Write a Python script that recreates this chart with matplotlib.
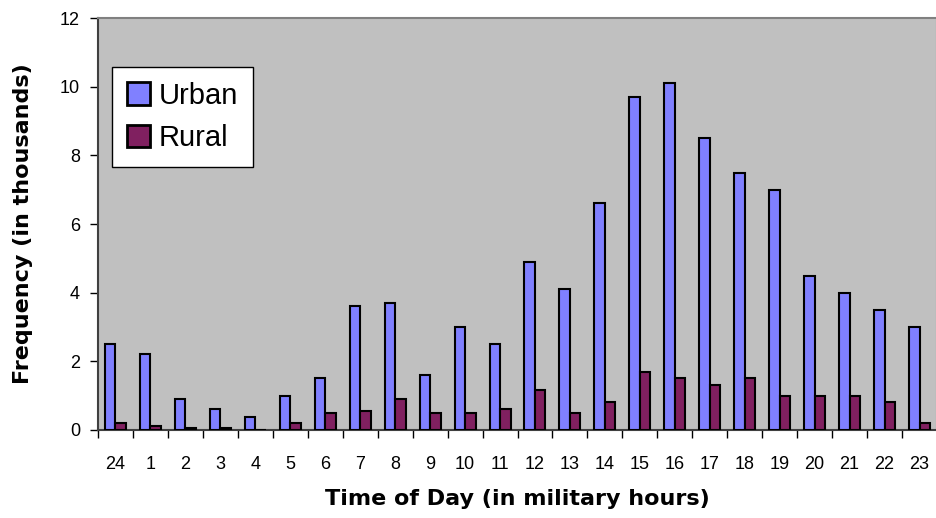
import matplotlib.pyplot as plt
import numpy as np

hours = ['24', '1', '2', '3', '4', '5', '6', '7', '8', '9', '10', '11',
         '12', '13', '14', '15', '16', '17', '18', '19', '20', '21', '22', '23']
urban = [2.5, 2.2, 0.9, 0.6, 0.37, 1.0, 1.5, 3.6, 3.7, 1.6, 3.0, 2.5,
         4.9, 4.1, 6.6, 9.7, 10.1, 8.5, 7.5, 7.0, 4.5, 4.0, 3.5, 3.0]
rural = [0.2, 0.12, 0.05, 0.05, 0.0, 0.2, 0.5, 0.55, 0.9, 0.5, 0.5, 0.6,
         1.15, 0.5, 0.8, 1.7, 1.5, 1.3, 1.5, 1.0, 1.0, 1.0, 0.8, 0.2]

plt.rcParams['font.family'] = ['Liberation Sans', 'DejaVu Sans']

fig = plt.figure(figsize=(9.37, 5.18), dpi=100)
ax = fig.add_axes([0.1046, 0.170, 0.8954, 0.795])
ax.set_facecolor('#C0C0C0')

x = np.arange(len(hours))
w = 0.3
ax.bar(x - w / 2, urban, w, color='#8080FF', edgecolor='black', linewidth=1.5, label='Urban', zorder=3)
ax.bar(x + w / 2, rural, w, color='#802060', edgecolor='black', linewidth=1.5, label='Rural', zorder=3)

ax.set_xlim(-0.5, len(hours) - 0.5)
ax.set_ylim(0, 12)
ax.set_yticks(range(0, 13, 2))
ax.set_xticks(x)
ax.set_xticklabels(hours, fontsize=13)
ax.set_xticks(np.arange(-0.5, len(hours), 1), minor=True)
ax.tick_params(axis='x', which='major', length=0, pad=19)
ax.tick_params(axis='x', which='minor', length=6, width=1, direction='out', color='black')
ax.tick_params(axis='y', labelsize=13, length=6, width=1, direction='out', pad=7)

for s in ['left', 'bottom']:
    ax.spines[s].set_color('#404040')
    ax.spines[s].set_linewidth(1.5)
for s in ['top', 'right']:
    ax.spines[s].set_color('#808080')
    ax.spines[s].set_linewidth(1.5)

ax.set_xlabel('Time of Day (in military hours)', fontsize=16, fontweight='bold',
              family='DejaVu Sans', labelpad=11)
ax.set_ylabel('Frequency (in thousands)', fontsize=16, fontweight='bold',
              family='DejaVu Sans', labelpad=19)

leg = ax.legend(loc='upper left', bbox_to_anchor=(0.0167, 0.881), borderaxespad=0,
                fontsize=21, frameon=True, fancybox=False, edgecolor='black', framealpha=1,
                handlelength=0.8, handleheight=0.8, handletextpad=0.3,
                labelspacing=0.5, borderpad=0.5)
leg.get_frame().set_linewidth(1)
for h in leg.legend_handles:
    h.set_linewidth(2)

fig.savefig('out.png', dpi=100)
